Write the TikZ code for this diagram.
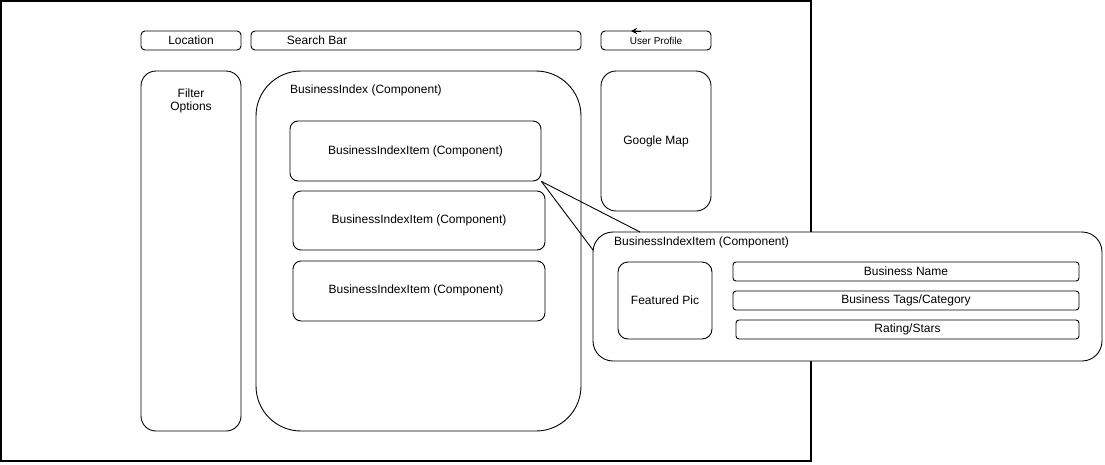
\documentclass[tikz,border=0pt]{standalone}
\usepackage{fontspec}
\setmainfont{Liberation Sans}
\usetikzlibrary{arrows.meta}
\begin{document}
\begin{tikzpicture}[x=1pt,y=-1pt,
  every node/.style={font=\fontsize{12}{14}\selectfont},
  box/.style={draw,line width=0.9pt,inner sep=0pt,rounded corners=#1},
  box/.default=4pt,
  lbl/.style={inner sep=0pt,align=center},
  conn/.style={draw,line width=0.9pt}]
\useasboundingbox (0,0) rectangle (1105,464);
% outer frame
\draw[line width=1.3pt] (1,1) rectangle (811,461);
% top bar
\node[box,minimum width=100pt,minimum height=19pt] (loc) at (191,40.5) {Location};
\node[box,minimum width=330pt,minimum height=19pt] (sb) at (416,40.5) {};
\node[lbl] (sbt) at (317,40.5) {Search Bar};
\node[box,minimum width=110pt,minimum height=19pt] (up) at (656,40.5) {\fontsize{10}{12}\selectfont User Profile};
\coordinate (ua) at (641,31);
\coordinate (ub) at (631,31);
\draw[line width=0.9pt,-{Stealth[length=6pt,width=6pt]}] (ua) -- (ub);
% filter options
\node[box=15pt,minimum width=100pt,minimum height=360pt] (flt) at (191,251) {};
\node[lbl] (fltt) at (191,100.5) {Filter\\[-1pt]Options};
% business index
\node[box=45pt,minimum width=325pt,minimum height=360pt] (bi) at (418.5,251) {};
\node[lbl,anchor=west] (bit) at (290,90.5) {BusinessIndex (Component)};
\node[box=8pt,minimum width=251pt,minimum height=60pt] (i1) at (415.5,151) {BusinessIndexItem (Component)};
\node[box=8pt,minimum width=252pt,minimum height=59pt] (i2) at (419,220.5) {BusinessIndexItem (Component)};
\node[box=8pt,minimum width=252pt,minimum height=60pt] (i3) at (419,291) {};
\node[lbl] (i3t) at (416,290.5) {BusinessIndexItem (Component)};
% google map
\node[box=15pt,minimum width=110pt,minimum height=140pt] (gm) at (656,141) {Google Map};
% detail
\node[box=20pt,minimum width=509pt,minimum height=129pt,fill=white] (det) at (847.5,296.5) {};
\node[lbl,anchor=west] (dett) at (614,242) {BusinessIndexItem (Component)};
\node[box=10pt,minimum width=94pt,minimum height=77pt] (pic) at (665,300.5) {Featured Pic};
\node[box=3pt,minimum width=346pt,minimum height=19pt] (bn) at (906,271.5) {Business Name};
\node[box=3pt,minimum width=346pt,minimum height=19pt] (bt) at (906,300.5) {Business Tags/Category};
\node[box=3pt,minimum width=343pt,minimum height=19pt] (rs) at (907.5,329.5) {Rating/Stars};
% callout lines
\coordinate (c1) at (640,232);
\coordinate (c2) at (593,250);
\draw[conn] (i1.south east) -- (c1);
\draw[conn] (i1.south east) -- (c2);
\end{tikzpicture}
\end{document}
